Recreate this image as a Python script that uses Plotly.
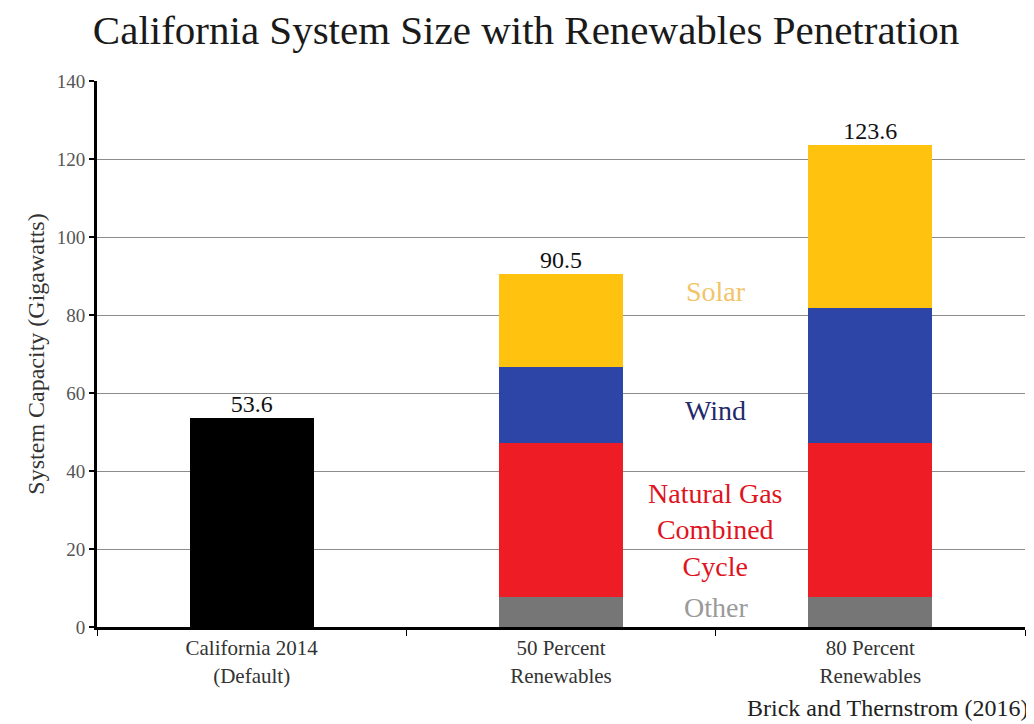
import plotly.graph_objects as go

categories = ["California 2014<br>(Default)", "50 Percent<br>Renewables", "80 Percent<br>Renewables"]
baseline = [53.6, None, None]
other = [None, 7.7, 7.7]
ngcc = [None, 39.5, 39.5]
wind = [None, 19.5, 34.5]
solar = [None, 23.8, 41.9]
totals = [53.6, 90.5, 123.6]
y_ticks = [0, 20, 40, 60, 80, 100, 120, 140]

SERIF = "Liberation Serif, Times New Roman, serif"

fig = go.Figure()
series = [
    ("California 2014", baseline, "#000000"),
    ("Other", other, "#767676"),
    ("Natural Gas Combined Cycle", ngcc, "#EE1C25"),
    ("Wind", wind, "#2D45A6"),
    ("Solar", solar, "#FFC20E"),
]
for name, vals, col in series:
    fig.add_trace(go.Bar(x=categories, y=vals, name=name, marker=dict(color=col, line=dict(width=0)),
                         width=0.4, showlegend=False, hoverinfo="y+name"))

fig.add_trace(go.Scatter(x=categories, y=totals, mode="text", text=[f"{t:.1f}" for t in totals],
                         textposition="top center", textfont=dict(family=SERIF, size=24, color="#111111"),
                         showlegend=False, hoverinfo="skip", cliponaxis=False))

labels = [
    ("Solar", 86, "#F2C46A"),
    ("Wind", 55.5, "#1F2A6B"),
    ("Natural Gas<br>Combined<br>Cycle", 25, "#E0141E"),
    ("Other", 5.0, "#9A9A9A"),
]
for txt, yv, col in labels:
    fig.add_annotation(x=1.5, y=yv, text=txt, showarrow=False, xref="x", yref="y",
                       font=dict(family=SERIF, size=28, color=col), align="center")

fig.add_annotation(x=1, y=0, xref="paper", yref="paper", yshift=-81, xshift=6, xanchor="right",
                   yanchor="middle", text="Brick and Thernstrom (2016)", showarrow=False,
                   font=dict(family=SERIF, size=24, color="#222222"))

fig.update_layout(
    width=1026, height=716,
    paper_bgcolor="white", plot_bgcolor="white",
    margin=dict(l=89, r=9, t=73, b=97),
    barmode="stack",
    title=dict(text="California System Size with Renewables Penetration", x=0.505, xanchor="center",
               y=0.97, yanchor="middle", font=dict(family=SERIF, size=41, color="#1a1a1a")),
    xaxis=dict(type="category", tickson="boundaries", ticks="outside", ticklen=6, tickcolor="black",
               showline=True, linecolor="black", linewidth=3, showgrid=False,
               tickfont=dict(family=SERIF, size=21, color="#333333")),
    yaxis=dict(range=[0, 140], tickvals=y_ticks, ticks="outside", ticklen=5, tickcolor="black",
               tickwidth=2, showline=True, linecolor="black", linewidth=3,
               showgrid=True, gridcolor="#8c8c8c", gridwidth=1, zeroline=False,
               tickfont=dict(family=SERIF, size=19, color="#555555"),
               title=dict(text="System Capacity (Gigawatts)", font=dict(family=SERIF, size=24, color="#333333"),
                          standoff=6)),
)

fig.write_html("out.html")
